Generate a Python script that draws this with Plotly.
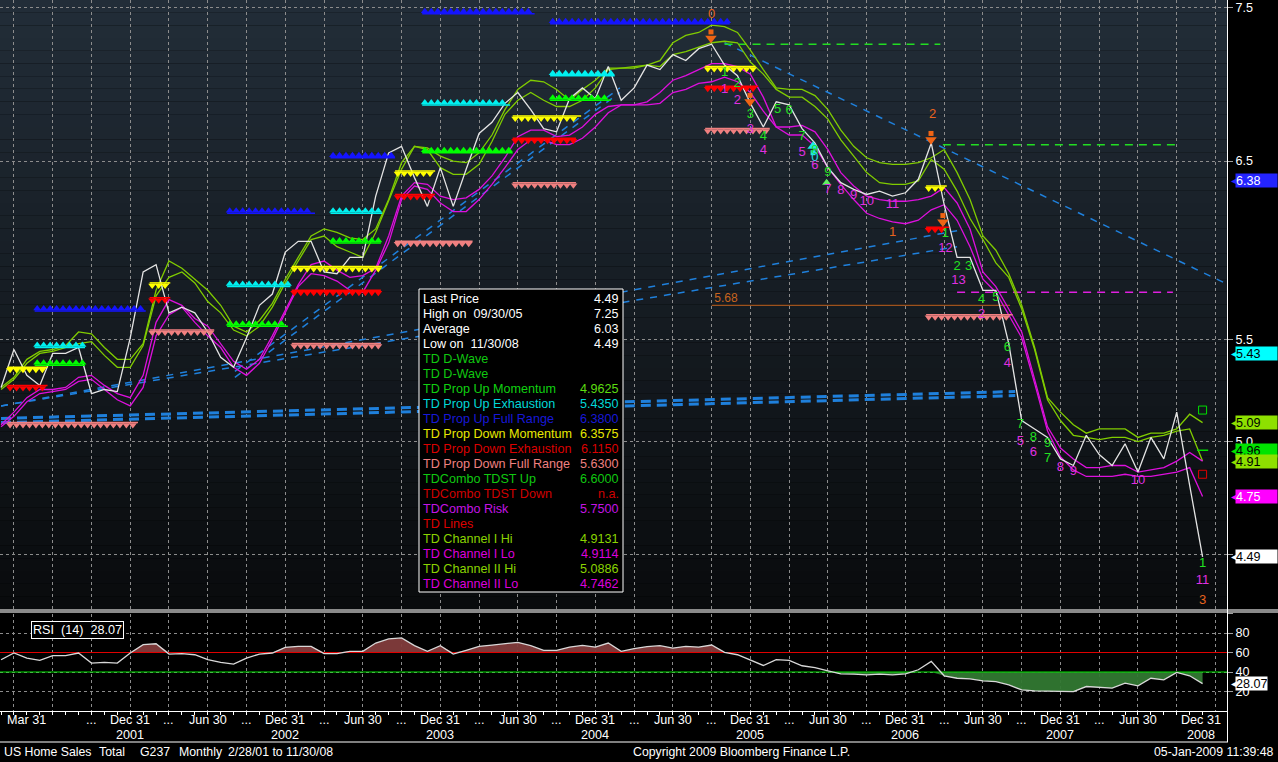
import calendar
import math
import numpy as np
import plotly.graph_objects as go

W, H = 1278, 762
PLOT_R = 1227          # right edge of the plotting area (px)
FONT = "Liberation Sans, Arial, sans-serif"
FS = 12.6

# ---------------------------------------------------------------- data
month_end = []
yr, mo = 2001, 2
for _ in range(94):
    month_end.append(f"{mo}/{calendar.monthrange(yr, mo)[1]}/{yr % 100:02d}")
    mo += 1
    if mo == 13:
        mo, yr = 1, yr + 1
xi = list(range(len(month_end)))

price = [5.26, 5.45, 5.32, 5.27, 5.43, 5.43, 5.46, 5.23, 5.25, 5.24,
         5.51, 5.86, 5.90, 5.64, 5.67, 5.64, 5.54, 5.41, 5.36, 5.51,
         5.68, 5.74, 5.97, 6.03, 6.03, 5.86, 5.85, 5.94, 5.94, 6.29,
         6.55, 6.59, 6.40, 6.23, 6.46, 6.23, 6.45, 6.67, 6.74, 6.86,
         6.93, 6.82, 6.70, 6.68, 6.89, 6.96, 6.89, 7.10, 6.88, 6.96,
         7.11, 7.08, 7.18, 7.14, 7.22, 7.25, 7.11, 7.04, 6.86, 6.71,
         6.87, 6.85, 6.70, 6.61, 6.46, 6.37, 6.33, 6.30, 6.32, 6.29,
         6.31, 6.39, 6.61, 6.24, 5.94, 5.94, 5.76, 5.76, 5.48, 5.10,
         5.06, 5.02, 4.92, 4.89, 5.03, 4.94, 4.89, 4.99, 4.86, 5.02,
         4.92, 5.14, 4.80, 4.49]

channel_II_hi = [5.26, 5.31, 5.40, 5.44, 5.45, 5.47, 5.54, 5.53, 5.46, 5.40,
                 5.40, 5.48, 5.76, 5.92, 5.88, 5.82, 5.76, 5.68, 5.57, 5.54,
                 5.60, 5.69, 5.82, 5.94, 6.06, 6.10, 6.08, 6.05, 6.04, 6.10,
                 6.27, 6.49, 6.59, 6.58, 6.53, 6.50, 6.49, 6.55, 6.66, 6.82,
                 6.95, 7.01, 7.00, 6.95, 6.88, 6.95, 7.01, 7.09, 7.09, 7.10,
                 7.11, 7.14, 7.26, 7.31, 7.33, 7.38, 7.37, 7.33, 7.21, 7.08,
                 6.96, 6.95, 6.95, 6.91, 6.82, 6.69, 6.59, 6.52, 6.49, 6.48,
                 6.48, 6.49, 6.52, 6.57, 6.43, 6.27, 6.06, 5.98, 5.85, 5.68,
                 5.46, 5.21, 5.14, 5.08, 5.04, 5.06, 5.06, 5.06, 5.02, 5.04,
                 5.04, 5.06, 5.13, 5.09]

channel_I_hi = [5.25, 5.30, 5.38, 5.43, 5.44, 5.46, 5.48, 5.49, 5.42, 5.36,
                5.36, 5.47, 5.73, 5.83, 5.86, 5.80, 5.70, 5.64, 5.55, 5.52,
                5.57, 5.67, 5.80, 5.92, 6.04, 6.06, 6.00, 5.97, 5.94, 6.08,
                6.26, 6.45, 6.59, 6.57, 6.46, 6.42, 6.42, 6.48, 6.62, 6.79,
                6.88, 6.93, 6.88, 6.84, 6.84, 6.88, 6.96, 7.08, 7.09, 7.09,
                7.11, 7.10, 7.18, 7.20, 7.23, 7.26, 7.27, 7.26, 7.13, 7.05,
                6.95, 6.90, 6.90, 6.84, 6.76, 6.63, 6.53, 6.43, 6.37, 6.36,
                6.36, 6.38, 6.51, 6.45, 6.32, 6.16, 6.04, 5.91, 5.83, 5.66,
                5.45, 5.20, 5.10, 5.03, 5.02, 5.01, 5.02, 5.02, 5.00, 5.02,
                5.03, 5.05, 5.06, 4.91]

channel_I_lo = [5.08, 5.14, 5.21, 5.25, 5.25, 5.26, 5.31, 5.32, 5.27, 5.23,
                5.21, 5.32, 5.59, 5.71, 5.68, 5.61, 5.57, 5.48, 5.39, 5.35,
                5.40, 5.52, 5.65, 5.79, 5.90, 5.92, 5.87, 5.83, 5.84, 5.88,
                6.06, 6.29, 6.37, 6.36, 6.29, 6.27, 6.28, 6.33, 6.41, 6.52,
                6.65, 6.69, 6.69, 6.65, 6.66, 6.71, 6.79, 6.84, 6.85, 6.85,
                6.87, 6.93, 7.01, 7.04, 7.08, 7.12, 7.12, 7.10, 7.05, 6.90,
                6.71, 6.71, 6.72, 6.68, 6.57, 6.43, 6.35, 6.29, 6.27, 6.26,
                6.26, 6.27, 6.29, 6.34, 6.25, 6.10, 5.86, 5.78, 5.66, 5.54,
                5.30, 5.07, 4.97, 4.92, 4.88, 4.88, 4.89, 4.89, 4.86, 4.87,
                4.88, 4.91, 4.95, 4.91]

channel_II_lo = [5.07, 5.12, 5.19, 5.23, 5.24, 5.25, 5.29, 5.30, 5.25, 5.20,
                 5.17, 5.26, 5.52, 5.63, 5.67, 5.59, 5.52, 5.46, 5.36, 5.32,
                 5.38, 5.50, 5.64, 5.78, 5.85, 5.84, 5.81, 5.76, 5.75, 5.87,
                 6.02, 6.27, 6.35, 6.33, 6.25, 6.20, 6.20, 6.27, 6.36, 6.46,
                 6.57, 6.63, 6.63, 6.60, 6.60, 6.64, 6.71, 6.80, 6.85, 6.85,
                 6.85, 6.86, 6.93, 6.95, 6.99, 7.00, 7.03, 7.00, 6.93, 6.81,
                 6.71, 6.66, 6.66, 6.59, 6.46, 6.36, 6.27, 6.19, 6.16, 6.14,
                 6.13, 6.15, 6.21, 6.24, 6.15, 6.00, 5.82, 5.75, 5.63, 5.51,
                 5.28, 5.05, 4.93, 4.87, 4.84, 4.84, 4.84, 4.85, 4.84, 4.84,
                 4.85, 4.86, 4.88, 4.75]

rsi14 = [52.6, 59.5, 54.3, 51.9, 56.7, 56.7, 59.5, 49.1, 49.8, 49.1,
         59.5, 68.0, 69.0, 58.4, 58.8, 57.7, 52.6, 49.8, 48.1, 54.3,
         58.4, 59.5, 65.3, 66.3, 66.3, 58.8, 58.8, 61.2, 61.2, 69.7,
         73.9, 74.9, 67.0, 61.2, 67.0, 58.4, 62.2, 66.3, 67.6, 69.0,
         70.4, 67.0, 62.2, 62.2, 65.6, 67.3, 65.6, 69.7, 61.2, 63.9,
         66.0, 67.0, 64.6, 66.3, 65.6, 67.7, 60.1, 57.7, 52.6, 46.7,
         52.6, 51.9, 46.4, 44.6, 41.2, 38.1, 37.8, 37.1, 37.8, 37.1,
         38.1, 42.3, 50.9, 36.1, 33.6, 33.0, 30.9, 30.2, 26.8, 21.6,
         20.6, 20.6, 19.9, 19.9, 25.1, 24.4, 23.4, 28.5, 25.8, 33.6,
         32.0, 39.5, 36.1, 28.07]

# TD propagation rows: level, first month, last month
blue_lvl, blue_from, blue_to = [5.65, 6.19, 6.52, 7.46, 7.39], [2.8, 17.7, 25.7, 32.8, 42.7], [11.0, 24.1, 30.3, 41.1, 56.2]
cyan_lvl, cyan_from, cyan_to = [5.46, 5.78, 6.19, 6.85, 7.04], [2.8, 17.7, 25.7, 32.8, 42.7], [6.3, 22.2, 29.3, 39.2, 47.3]
lime_lvl, lime_from, lime_to = [5.37, 5.57, 6.02, 6.55, 6.88], [2.8, 17.7, 25.7, 32.8, 42.7], [6.3, 22.0, 29.2, 39.4, 47.0]
yel_lvl, yel_from, yel_to = [5.36, 5.80, 5.89, 6.44, 6.78, 7.10, 6.35], [0.7, 11.7, 22.7, 30.7, 39.8, 54.7, 71.8], [3.4, 12.9, 29.3, 33.4, 44.7, 58.2, 73.0]
red_lvl, red_from, red_to = [5.27, 5.72, 5.76, 6.30, 6.64, 6.97, 6.11], [0.7, 11.7, 22.7, 30.7, 39.8, 54.7, 71.8], [3.4, 12.9, 29.2, 33.4, 44.3, 58.4, 73.2]
sal_lvl, sal_from, sal_to = [5.09, 5.55, 5.48, 6.03, 6.37, 6.70, 5.63], [0.7, 11.7, 22.7, 30.7, 39.8, 54.7, 71.8], [10.4, 16.3, 29.2, 36.3, 44.3, 59.3, 78.1]

# TD lines (trend lines): start month/value, end month/value
tdl_x0 = [0.0, 0.0, 0.0, 0.0, 18.1, 18.1, 56.0]
tdl_v0 = [5.11, 5.09, 5.17, 5.17, 5.34, 5.31, 7.26]
tdl_x1 = [78.5, 78.5, 74.0, 74.0, 47.9, 47.9, 94.7]
tdl_v1 = [5.24, 5.22, 6.09, 6.00, 6.96, 6.93, 5.80]

# TDST / risk / reference levels
tdst_lvl, tdst_from, tdst_to = [7.25, 6.60], [56.0, 72.9], [72.7, 91.0]
risk_lvl, risk_from, risk_to = 5.75, 74.0, 90.7
ref_lvl, ref_from, ref_to = 5.68, 55.0, 78.1

# TD Sequential / Combo counts
cnt_green_x = [56.0, 57.0, 58.0, 59.0, 60.1, 61.0, 62.0, 63.0, 64.0, 73.1, 74.0, 74.9, 75.9, 77.0, 77.9, 78.9, 79.9, 81.0, 81.0, 93.0]
cnt_green_v = [7.06, 6.99, 6.79, 6.65, 6.82, 6.81, 6.65, 6.56, 6.43, 6.07, 5.89, 5.89, 5.71, 5.72, 5.46, 5.08, 5.02, 4.99, 4.92, 4.46]
cnt_green_t = ["1", "2", "3", "4", "5", "6", "7", "8", "9", "1", "2", "3", "4", "5", "6", "7", "8", "9", "7", "1"]
cnt_mag_x = [56.0, 57.0, 58.0, 59.0, 62.0, 63.0, 64.0, 65.0, 66.0, 67.0, 69.0, 73.1, 74.1, 75.9, 77.9, 78.9, 79.9, 82.0, 83.0, 88.0, 93.0]
cnt_mag_v = [6.95, 6.88, 6.69, 6.56, 6.55, 6.47, 6.33, 6.32, 6.29, 6.26, 6.24, 5.99, 5.81, 5.63, 5.38, 5.00, 4.95, 4.88, 4.86, 4.82, 4.39]
cnt_mag_t = ["1", "2", "3", "4", "5", "6", "7", "8", "9", "10", "11", "12", "13", "2", "4", "5", "6", "8", "9", "10", "11"]
cnt_org_x, cnt_org_v, cnt_org_t = [55.0, 72.1, 69.0, 93.0], [7.45, 6.79, 6.08, 4.31], ["0", "2", "1", "3"]
cnt_cyan_x, cnt_cyan_v, cnt_cyan_t = [63.0], [6.52], ["0"]
arrow_dn_x, arrow_dn_v = [54.95, 57.97, 71.98, 72.9], [7.29, 6.87, 6.63, 6.14]
arrow_up_cyan_x, arrow_up_cyan_v = [62.85], [6.59]
arrow_up_green_x, arrow_up_green_v = [63.9], [6.37]

# Legend table
leg_labels = ["Last Price", "High on\u00a0 09/30/05", "Average", "Low on\u00a0 11/30/08", "TD D-Wave", "TD D-Wave",
              "TD Prop Up Momentum", "TD Prop Up Exhaustion", "TD Prop Up Full Range", "TD Prop Down Momentum",
              "TD Prop Down Exhaustion", "TD Prop Down Full Range", "TDCombo TDST Up", "TDCombo TDST Down",
              "TDCombo Risk", "TD Lines", "TD Channel I Hi", "TD Channel I Lo", "TD Channel II Hi", "TD Channel II Lo"]
leg_values = ["4.49", "7.25", "6.03", "4.49", "", "", "4.9625", "5.4350", "6.3800", "6.3575", "6.1150", "5.6300",
              "6.6000", "n.a.", "5.7500", "", "4.9131", "4.9114", "5.0886", "4.7462"]
leg_colors = ["#ffffff", "#ffffff", "#ffffff", "#ffffff", "#10c810", "#10c810", "#10d010", "#00d8d8", "#1818d8",
              "#e8e800", "#dc0000", "#f08080", "#10c810", "#d00000", "#c414e4", "#dc0000", "#8ad400", "#dc00dc",
              "#8ad400", "#dc00dc"]
leg_vcolors = ["#ffffff", "#ffffff", "#ffffff", "#ffffff", "#10c810", "#10c810", "#5cdc10", "#00d8d8", "#1818d8",
               "#e8e800", "#dc0000", "#f08080", "#10c810", "#d00000", "#c414e4", "#dc0000", "#8ad400", "#dc00dc",
               "#8ad400", "#dc00dc"]

# right-axis value flags
flag_vals = [6.38, 5.43, 5.09, 4.96, 4.91, 4.75, 4.49]
flag_bg = ["#2424ff", "#00ffff", "#8ee000", "#00e400", "#8ee000", "#ff00ff", "#ffffff"]
flag_fg = ["#ffffff", "#000000", "#000000", "#000000", "#000000", "#ffffff", "#000000"]

# x-axis labels
xtick_month = [1, 7, 10, 13, 16, 19, 22, 25, 28, 31, 34, 37, 40, 43, 46, 49, 52, 55, 58, 61, 64, 67, 70, 73,
               76, 79, 82, 85, 88, 94]
xtick_text = ["Mar 31", "...", "Dec 31", "...", "Jun 30", "...", "Dec 31", "...", "Jun 30", "...", "Dec 31", "...",
              "Jun 30", "...", "Dec 31", "...", "Jun 30", "...", "Dec 31", "...", "Jun 30", "...", "Dec 31", "...",
              "Jun 30", "...", "Dec 31", "...", "Jun 30", "Dec 31"]
year_month = [10, 22, 34, 46, 58, 70, 82, 94]
year_text = ["2001", "2002", "2003", "2004", "2005", "2006", "2007", "2008"]

# ---------------------------------------------------------------- helpers
def X(p):
    return p / W


def Y(p):
    return 1 - p / H


XR = [-0.08, 94.89]
PXF = math.exp(2.5 / 1070)      # ~2.5 px offset on the log axis

fig = go.Figure()

# TD lines
for i in range(len(tdl_x0)):
    fig.add_trace(go.Scatter(x=[tdl_x0[i], tdl_x1[i]], y=[tdl_v0[i], tdl_v1[i]], mode="lines",
                             line=dict(color="#1f80dc", width=3 if i < 2 else 1.5,
                                       dash="10px,6px" if i < 2 else "7px,7px"),
                             hoverinfo="skip", showlegend=False))

# TDST / risk / reference lines
for lv, a, b in zip(tdst_lvl, tdst_from, tdst_to):
    fig.add_trace(go.Scatter(x=[a, b], y=[lv, lv], mode="lines",
                             line=dict(color="#22dd22", width=1.5, dash="8px,6px"), showlegend=False))
fig.add_trace(go.Scatter(x=[risk_from, risk_to], y=[risk_lvl, risk_lvl], mode="lines",
                         line=dict(color="#e020e0", width=1.5, dash="8px,6px"), showlegend=False))
fig.add_trace(go.Scatter(x=[ref_from, ref_to], y=[ref_lvl, ref_lvl], mode="lines",
                         line=dict(color="#c8641e", width=1), showlegend=False))
fig.add_trace(go.Scatter(x=[ref_from + 0.2], y=[ref_lvl], mode="text", text=["5.68"],
                         textposition="top right", textfont=dict(color="#c8641e", size=12, family=FONT),
                         showlegend=False))

# channels
fig.add_trace(go.Scatter(x=xi, y=channel_II_hi, mode="lines", line=dict(color="#80cc00", width=1.3), showlegend=False))
fig.add_trace(go.Scatter(x=xi, y=channel_I_hi, mode="lines", line=dict(color="#80cc00", width=1.3), showlegend=False))
fig.add_trace(go.Scatter(x=xi, y=channel_I_lo, mode="lines", line=dict(color="#dd10dd", width=1.3), showlegend=False))
fig.add_trace(go.Scatter(x=xi, y=channel_II_lo, mode="lines", line=dict(color="#dd10dd", width=1.3), showlegend=False))

# price
fig.add_trace(go.Scatter(x=xi, y=price, mode="lines", line=dict(color="#e4e4e4", width=1.3), showlegend=False))


# propagation rows
def add_rows(lvls, a_list, b_list, color, up):
    lx, ly, mx, my = [], [], [], []
    for lv, a, b in zip(lvls, a_list, b_list):
        lx += [a - 0.2, b + 0.2, None]
        ly += [lv, lv, None]
        for m in np.arange(a, b + 1e-9, 0.5):
            mx.append(m)
            my.append(lv * PXF if up else lv / PXF)
    fig.add_trace(go.Scatter(x=lx, y=ly, mode="lines", line=dict(color=color, width=1.5), showlegend=False))
    fig.add_trace(go.Scatter(x=mx, y=my, mode="markers",
                             marker=dict(symbol="triangle-up" if up else "triangle-down", size=7, color=color,
                                         line=dict(width=0)), showlegend=False))


add_rows(sal_lvl, sal_from, sal_to, "#f08080", False)
add_rows(blue_lvl, blue_from, blue_to, "#1414ff", True)
add_rows(cyan_lvl, cyan_from, cyan_to, "#00f0f0", True)
add_rows(lime_lvl, lime_from, lime_to, "#00ff00", True)
add_rows(yel_lvl, yel_from, yel_to, "#ffff00", False)
add_rows(red_lvl, red_from, red_to, "#ff0000", False)

# arrows
fig.add_trace(go.Scatter(x=arrow_dn_x, y=[v * 1.006 for v in arrow_dn_v], mode="markers",
                         marker=dict(symbol="square", size=5, color="#f06414"), showlegend=False))
fig.add_trace(go.Scatter(x=arrow_dn_x, y=arrow_dn_v, mode="markers",
                         marker=dict(symbol="triangle-down", size=10, color="#f06414"), showlegend=False))
fig.add_trace(go.Scatter(x=arrow_up_cyan_x, y=[v / 1.006 for v in arrow_up_cyan_v], mode="markers",
                         marker=dict(symbol="square", size=5, color="#20e8e8"), showlegend=False))
fig.add_trace(go.Scatter(x=arrow_up_cyan_x, y=arrow_up_cyan_v, mode="markers",
                         marker=dict(symbol="triangle-up", size=10, color="#20e8e8"), showlegend=False))
fig.add_trace(go.Scatter(x=arrow_up_green_x, y=arrow_up_green_v, mode="markers",
                         marker=dict(symbol="triangle-up", size=8, color="#60f060"), showlegend=False))

# end-of-chart markers
fig.add_trace(go.Scatter(x=[93, 93], y=[5.15, 4.85], mode="markers",
                         marker=dict(symbol="square-open", size=8, color=["#00e000", "#e00000"], line=dict(width=1)),
                         showlegend=False))
fig.add_trace(go.Scatter(x=[93], y=[4.96], mode="markers",
                         marker=dict(symbol="line-ew", size=8, line=dict(color="#00e000", width=1.5)),
                         showlegend=False))

# counts
for xs, vs, ts, col in [(cnt_green_x, cnt_green_v, cnt_green_t, "#22e022"),
                        (cnt_mag_x, cnt_mag_v, cnt_mag_t, "#e030e0"),
                        (cnt_org_x, cnt_org_v, cnt_org_t, "#e8641e"),
                        (cnt_cyan_x, cnt_cyan_v, cnt_cyan_t, "#20e0e0")]:
    fig.add_trace(go.Scatter(x=xs, y=vs, mode="text", text=ts, textposition="middle center",
                             textfont=dict(color=col, size=13, family=FONT), showlegend=False))

# ---------------------------------------------------------------- RSI panel
rsi_hi = np.maximum(np.array(rsi14), 60)
rsi_lo = np.minimum(np.array(rsi14), 40)
fig.add_trace(go.Scatter(x=xi, y=[60] * len(xi), mode="lines", line=dict(width=0), xaxis="x2", yaxis="y2",
                         showlegend=False))
fig.add_trace(go.Scatter(x=xi, y=rsi_hi, mode="lines", line=dict(width=0), fill="tonexty",
                         fillcolor="rgba(130,60,60,0.95)", xaxis="x2", yaxis="y2", showlegend=False))
fig.add_trace(go.Scatter(x=xi, y=[40] * len(xi), mode="lines", line=dict(width=0), xaxis="x2", yaxis="y2",
                         showlegend=False))
fig.add_trace(go.Scatter(x=xi, y=rsi_lo, mode="lines", line=dict(width=0), fill="tonexty",
                         fillcolor="rgba(50,120,50,0.95)", xaxis="x2", yaxis="y2", showlegend=False))
fig.add_trace(go.Scatter(x=XR, y=[60, 60], mode="lines", line=dict(color="#e00000", width=1.2), xaxis="x2",
                         yaxis="y2", showlegend=False))
fig.add_trace(go.Scatter(x=XR, y=[40, 40], mode="lines", line=dict(color="#00e000", width=1.2), xaxis="x2",
                         yaxis="y2", showlegend=False))
fig.add_trace(go.Scatter(x=xi, y=rsi14, mode="lines", line=dict(color="#d8d8d8", width=1.3), xaxis="x2",
                         yaxis="y2", showlegend=False))

# ---------------------------------------------------------------- shapes
shapes = []
nb = 48
top_c, bot_c = (34, 45, 56), (9, 11, 13)
for i in range(nb):
    t = i / (nb - 1)
    c = tuple(int(round(top_c[k] + (bot_c[k] - top_c[k]) * t)) for k in range(3))
    shapes.append(dict(type="rect", xref="paper", yref="paper", x0=0, x1=X(PLOT_R),
                       y0=Y(609 * (i + 1) / nb), y1=Y(609 * i / nb), fillcolor=f"rgb{c}",
                       line=dict(width=0), layer="below"))
# separator band
shapes.append(dict(type="rect", xref="paper", yref="paper", x0=0, x1=1, y0=Y(613), y1=Y(609),
                   fillcolor="#8a8a8a", line=dict(width=0), layer="above"))
# frame lines
shapes.append(dict(type="line", xref="paper", yref="paper", x0=0, x1=X(PLOT_R + 1), y0=Y(742), y1=Y(742),
                   line=dict(color="white", width=1), layer="above"))
shapes.append(dict(type="line", xref="paper", yref="paper", x0=X(PLOT_R + 0.5), x1=X(PLOT_R + 0.5), y0=Y(742),
                   y1=Y(0), line=dict(color="white", width=1), layer="above"))
# legend box
shapes.append(dict(type="rect", xref="paper", yref="paper", x0=X(419), x1=X(623), y0=Y(592), y1=Y(289),
                   fillcolor="black", line=dict(color="white", width=1), layer="above"))

# ---------------------------------------------------------------- annotations
ann = []
for i, (lab, val) in enumerate(zip(leg_labels, leg_values)):
    yc = Y(299 + 15 * i)
    ann.append(dict(xref="paper", yref="paper", x=X(421), y=yc, xanchor="left", yanchor="middle", text=lab,
                    showarrow=False, font=dict(color=leg_colors[i], size=FS, family=FONT)))
    if val:
        ann.append(dict(xref="paper", yref="paper", x=X(621), y=yc, xanchor="right", yanchor="middle", text=val,
                        showarrow=False, font=dict(color=leg_vcolors[i], size=FS, family=FONT)))

for v, bg, fg in zip(flag_vals, flag_bg, flag_fg):
    ann.append(dict(xref="paper", yref="y", x=X(1229), y=math.log10(v), xanchor="left", yanchor="middle",
                    text="\u25c0", showarrow=False, font=dict(color=bg, size=10, family="DejaVu Sans")))
    ann.append(dict(xref="paper", yref="y", x=X(1235), y=math.log10(v), xanchor="left", yanchor="middle",
                    text=f"{v:.2f}", showarrow=False, bgcolor=bg, width=41, height=13, align="left",
                    borderpad=0, font=dict(color=fg, size=FS, family=FONT)))

# RSI flag and title
ann.append(dict(xref="paper", yref="y2", x=X(1229), y=rsi14[-1], xanchor="left", yanchor="middle",
                text="\u25c0", showarrow=False, font=dict(color="white", size=10, family="DejaVu Sans")))
ann.append(dict(xref="paper", yref="y2", x=X(1235), y=rsi14[-1], xanchor="left", yanchor="middle",
                text=f"{rsi14[-1]:.2f}", showarrow=False, bgcolor="white", width=31, height=13, align="left",
                borderpad=0, font=dict(color="black", size=FS, family=FONT)))
ann.append(dict(xref="paper", yref="paper", x=X(31), y=Y(629.5), xanchor="left", yanchor="middle",
                text=f"RSI\u00a0 (14)\u00a0 {rsi14[-1]:.2f}", showarrow=False, bgcolor="black",
                bordercolor="white", borderwidth=1, borderpad=1, font=dict(color="white", size=FS, family=FONT)))

# x labels
for m, t in zip(xtick_month, xtick_text):
    shift = 13 if m == xtick_month[0] else (-15 if m == xtick_month[-1] else 0)
    ann.append(dict(xref="x2", yref="paper", x=m, y=Y(720), xanchor="center", yanchor="middle", text=t,
                    xshift=shift, showarrow=False, font=dict(color="white", size=FS, family=FONT)))
for m, t in zip(year_month, year_text):
    shift = -15 if m == year_month[-1] else 0
    ann.append(dict(xref="x2", yref="paper", x=m, y=Y(735), xanchor="center", yanchor="middle", text=t,
                    xshift=shift, showarrow=False, font=dict(color="white", size=FS, family=FONT)))

# footer
for px_, txt in [(2, "US Home Sales"), (97, "Total"), (138, "G237"), (177, "Monthly"),
                 (226, f"{month_end[0]} to {month_end[-1]}")]:
    ann.append(dict(xref="paper", yref="paper", x=X(px_), y=Y(752), xanchor="left", yanchor="middle", text=txt,
                    showarrow=False, font=dict(color="white", size=12.3, family=FONT)))
ann.append(dict(xref="paper", yref="paper", x=X(631), y=Y(752), xanchor="left", yanchor="middle",
                text="Copyright 2009 Bloomberg Finance L.P.", showarrow=False,
                font=dict(color="white", size=12.3, family=FONT)))
ann.append(dict(xref="paper", yref="paper", x=X(1276), y=Y(752), xanchor="right", yanchor="middle",
                text="05-Jan-2009 11:39:48", showarrow=False, font=dict(color="white", size=12.3, family=FONT)))

# ---------------------------------------------------------------- layout
grid = dict(showgrid=True, gridcolor="#8c8c8c", gridwidth=1, griddash="3px,3px")
quarters = list(range(1, 95, 3))
fig.update_layout(
    width=W, height=H, template="none",
    margin=dict(l=0, r=0, t=0, b=0),
    paper_bgcolor="black", plot_bgcolor="rgba(0,0,0,0)",
    showlegend=False, hovermode=False,
    font=dict(family=FONT, color="white", size=FS),
    xaxis=dict(domain=[0, X(PLOT_R)], range=XR, anchor="y", tickmode="array", tickvals=quarters,
               showticklabels=False, ticks="", zeroline=False, showline=False, automargin=False, **grid),
    yaxis=dict(domain=[Y(609), 1], type="log", range=[math.log10(4.276), math.log10(7.556)], side="right",
               anchor="x", tickmode="array", tickvals=[4.5, 5.0, 5.5, 6.5, 7.5],
               ticktext=["", "5.0", "5.5", "6.5", "7.5"], ticks="outside", ticklen=5, tickcolor="#a0a0a0",
               tickfont=dict(color="white", size=FS, family=FONT), showline=True, linecolor="white",
               zeroline=False, automargin=False, **grid),
    xaxis2=dict(domain=[0, X(PLOT_R)], range=XR, anchor="y2", tickmode="array", tickvals=quarters,
                showticklabels=False, ticks="", zeroline=False, showline=True, linecolor="white",
                automargin=False,
                minor=dict(tickmode="array", tickvals=xi, ticks="outside", ticklen=3, tickcolor="white",
                           showgrid=False),
                **grid),
    yaxis2=dict(domain=[Y(711), Y(613.5)], range=[0, 100], side="right", anchor="x2", tickmode="array",
                tickvals=[20, 40, 60, 80, 100], ticktext=["20", "40", "60", "80", ""], ticks="outside",
                ticklen=5, tickcolor="#a0a0a0", tickfont=dict(color="white", size=FS, family=FONT),
                showline=True, linecolor="white", zeroline=False, automargin=False, **grid),
    shapes=shapes,
    annotations=ann,
)

fig.write_html("out.html")
